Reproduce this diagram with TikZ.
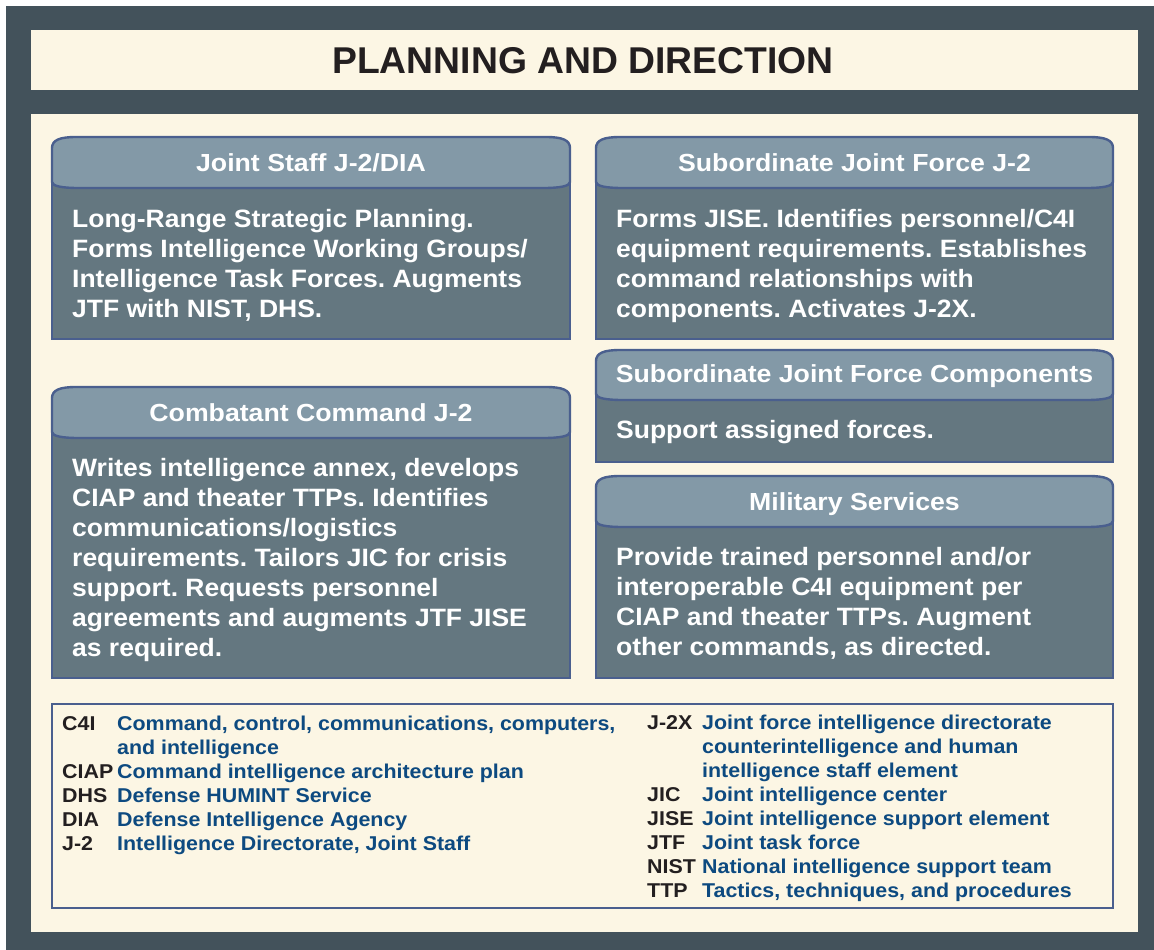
\documentclass[tikz,border=0pt]{standalone}
\usepackage{fontspec}
\setmainfont{Liberation Sans}
\newfontfamily\bodyfont{Liberation Sans}[FakeStretch=1.055]
\newfontfamily\headfont{Liberation Sans}[FakeStretch=1.08]
\newfontfamily\legfont{Liberation Sans}[FakeStretch=1.07]
\frenchspacing
\definecolor{frame}{HTML}{43525B}
\definecolor{cream}{HTML}{FCF6E4}
\definecolor{headfill}{HTML}{8399A7}
\definecolor{bodyfill}{HTML}{647780}
\definecolor{edge}{HTML}{4A5F8E}
\definecolor{legblue}{HTML}{0D4A80}
\definecolor{ink}{HTML}{231F20}
\newcommand{\drawpanel}[5]{%
  \draw[panelbody] (#1,#4-6) rectangle (#2,#5);
  \draw[panelhead] (#1,#4-6) -- (#1,#3+11)
     .. controls (#1,#3+3) and (#1+8,#3) .. (#1+24,#3)
     -- (#2-24,#3)
     .. controls (#2-8,#3) and (#2,#3+3) .. (#2,#3+11)
     -- (#2,#4-6)
     .. controls (#2,#4-2) and (#2-10,#4) .. (#2-26,#4)
     -- (#1+26,#4)
     .. controls (#1+10,#4) and (#1,#4-2) .. (#1,#4-6) -- cycle;
}
\tikzset{
  panelbody/.style={fill=bodyfill, draw=edge, line width=2.4pt},
  panelhead/.style={fill=headfill, draw=edge, line width=2.4pt, line join=round},
  titletext/.style={font=\fontsize{37.3}{40}\selectfont\bfseries, text=ink, inner sep=0pt, anchor=base},
  headtext/.style={font=\headfont\fontsize{24.7}{30}\selectfont\bfseries, text=white, inner sep=0pt, anchor=base},
  bodytext/.style={font=\bodyfont\fontsize{25.1}{30}\selectfont\bfseries, text=white, inner sep=0pt, anchor=base west},
  abbr/.style={font=\legfont\fontsize{20}{24}\selectfont\bfseries, text=ink, inner sep=0pt, anchor=base west},
  defn/.style={font=\legfont\fontsize{20}{24}\selectfont\bfseries, text=legblue, inner sep=0pt, anchor=base west},
}
\begin{document}
\begin{tikzpicture}[x=1pt,y=-1pt]
\useasboundingbox (0,0) rectangle (1154,950);
\fill[white] (0,0) rectangle (1154,950);
\fill[frame] (6,6) rectangle (1154,950);
\fill[cream] (31,30) rectangle (1138,90);
\fill[cream] (31,114) rectangle (1138,932);

\node[titletext] (title) at (583,74) {PLANNING AND DIRECTION};

% panels
\drawpanel{52}{570}{137}{188}{339}
\drawpanel{596}{1113}{137}{188}{339}
\drawpanel{52}{570}{387}{438}{678}
\drawpanel{596}{1113}{350}{400}{462}
\drawpanel{596}{1113}{476}{527}{678}

\node[headtext] (h1) at (311,171) {Joint Staff J-2/DIA};
\node[headtext] (h2) at (854.5,171) {Subordinate Joint Force J-2};
\node[headtext] (h3) at (311,421) {Combatant Command J-2};
\node[headtext] (h4) at (854.5,382) {Subordinate Joint Force Components};
\node[headtext] (h5) at (854.5,510) {Military Services};

\foreach \t [count=\i] in {{Long-Range Strategic Planning.},{Forms Intelligence Working Groups/},{Intelligence Task Forces. Augments},{JTF with NIST, DHS.}}
  \node[bodytext] (b1-\i) at (72,{227+30*(\i-1)}) {\t};
\foreach \t [count=\i] in {{Forms JISE. Identifies personnel/C4I},{equipment requirements. Establishes},{command relationships with},{components. Activates J-2X.}}
  \node[bodytext] (b2-\i) at (616,{227+30*(\i-1)}) {\t};
\foreach \t [count=\i] in {{Writes intelligence annex, develops},{CIAP and theater TTPs. Identifies},{communications/logistics},{requirements. Tailors JIC for crisis},{support. Requests personnel},{agreements and augments JTF JISE},{as required.}}
  \node[bodytext] (b3-\i) at (72,{476+30*(\i-1)}) {\t};
\node[bodytext] (b4-1) at (616,438) {Support assigned forces.};
\foreach \t [count=\i] in {{Provide trained personnel and/or},{interoperable C4I equipment per},{CIAP and theater TTPs. Augment},{other commands, as directed.}}
  \node[bodytext] (b5-\i) at (616,{565+30*(\i-1)}) {\t};

% legend
\draw[edge, line width=2.4pt] (52,704) rectangle (1113,908);
\node[abbr] (a1) at (62,730) {C4I};
\node[defn] (d1) at (117,730) {Command, control, communications, computers,};
\node[defn] (d1b) at (117,754) {and intelligence};
\node[abbr] (a2) at (62,778) {CIAP};
\node[defn] (d2) at (117,778) {Command intelligence architecture plan};
\node[abbr] (a3) at (62,802) {DHS};
\node[defn] (d3) at (117,802) {Defense HUMINT Service};
\node[abbr] (a4) at (62,826) {DIA};
\node[defn] (d4) at (117,826) {Defense Intelligence Agency};
\node[abbr] (a5) at (62,850) {J-2};
\node[defn] (d5) at (117,850) {Intelligence Directorate, Joint Staff};

\node[abbr] (a6) at (647,729.5) {J-2X};
\node[defn] (d6) at (702,729.5) {Joint force intelligence directorate};
\node[defn] (d6b) at (702,753.5) {counterintelligence and human};
\node[defn] (d6c) at (702,777.5) {intelligence staff element};
\node[abbr] (a7) at (647,801.5) {JIC};
\node[defn] (d7) at (702,801.5) {Joint intelligence center};
\node[abbr] (a8) at (647,825.5) {JISE};
\node[defn] (d8) at (702,825.5) {Joint intelligence support element};
\node[abbr] (a9) at (647,849.5) {JTF};
\node[defn] (d9) at (702,849.5) {Joint task force};
\node[abbr] (a10) at (647,873.5) {NIST};
\node[defn] (d10) at (702,873.5) {National intelligence support team};
\node[abbr] (a11) at (647,897.5) {TTP};
\node[defn] (d11) at (702,897.5) {Tactics, techniques, and procedures};
\end{tikzpicture}
\end{document}
